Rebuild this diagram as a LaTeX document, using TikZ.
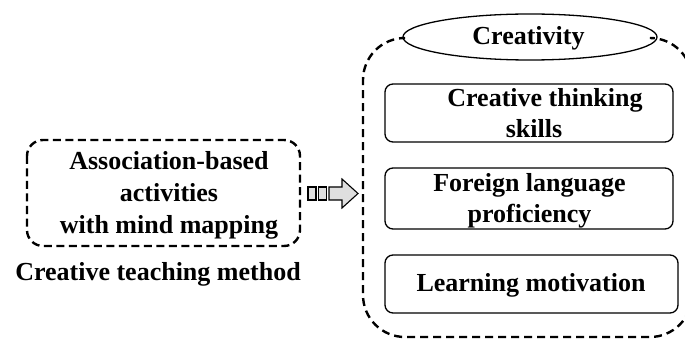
\documentclass[tikz,border=0pt]{standalone}
\usepackage{fontspec}
\setmainfont{Liberation Serif}
\usetikzlibrary{shapes.geometric}
\begin{document}
\begin{tikzpicture}[x=1pt,y=-1pt,
  txt/.style={font=\fontsize{26}{31}\selectfont\bfseries, align=center, inner sep=0pt},
  inbox/.style={draw, line width=1.3pt, rounded corners=8pt},
  dashbox/.style={draw, line width=2.4pt, dash pattern=on 8pt off 4.5pt, rounded corners=16pt},
  bigdash/.style={draw, line width=2.4pt, dash pattern=on 8pt off 5pt, rounded corners=42pt},
  sq/.style={draw, line width=1.1pt, fill=gray!25, minimum width=8pt, minimum height=13pt, inner sep=0pt},
  arr/.style={draw, line width=1.1pt, fill=gray!25, line join=miter}]
\useasboundingbox (0,0) rectangle (685,339);
% left box
\draw[dashbox] (27,140) rectangle (300,246);
\node[txt, font=\fontsize{26}{32}\selectfont\bfseries] (assoc) at (169,195) {Association-based\\activities\\with mind mapping};
\node[txt] (method) at (158,274) {Creative teaching method};
% arrow
\node[sq] (s1) at (312,193.5) {};
\node[sq] (s2) at (322.5,193.5) {};
\draw[arr] (329,187) -- (342,187) -- (342,179) -- (358,193.5) -- (342,208) -- (342,200) -- (329,200) -- cycle;
% big dashed container
\node[draw, ellipse, line width=1.3pt, minimum width=254pt, minimum height=46pt, inner sep=0pt] (crea) at (530,37) {};
\node[txt] at (528.5,38) {Creativity};
\coordinate (cl) at (403,38);
\coordinate (cr) at (657,38);
\draw[bigdash] (cl) -- (363,38) -- (363,337) -- (692,337) -- (692,38) -- (cr);
% inner boxes
\draw[inbox] (385,84) rectangle (673,142);
\node[txt] (b1) at (534,113) {\hspace*{22pt}Creative thinking\\skills};
\draw[inbox] (385,168) rectangle (673,229);
\node[txt] (b2) at (529.5,201) {Foreign language\\proficiency};
\draw[inbox] (385,255) rectangle (678,313);
\node[txt] (b3) at (531,285) {Learning motivation};
\end{tikzpicture}
\end{document}
